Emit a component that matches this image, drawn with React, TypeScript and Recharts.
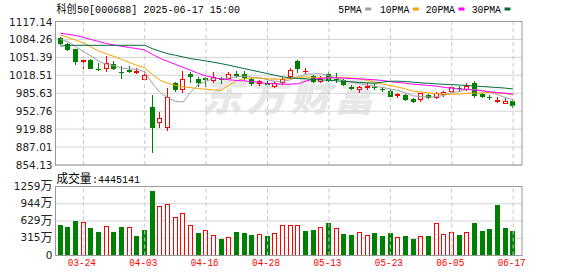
import React from 'react';
import { ComposedChart, Bar, Line, XAxis, YAxis, CartesianGrid, ReferenceLine } from 'recharts';

// ---------------- data ----------------
const dates = [
  '03-19', '03-20', '03-21', '03-24', '03-25', '03-26', '03-27', '03-28', '03-31',
  '04-01', '04-02', '04-03', '04-07', '04-08', '04-09', '04-10', '04-11', '04-14', '04-15', '04-16',
  '04-17', '04-18', '04-21', '04-22', '04-23', '04-24', '04-25', '04-28', '04-29', '04-30',
  '05-06', '05-07', '05-08', '05-09', '05-12', '05-13', '05-14', '05-15', '05-16', '05-19',
  '05-20', '05-21', '05-22', '05-23', '05-26', '05-27', '05-28', '05-29', '05-30',
  '06-03', '06-04', '06-05', '06-06', '06-09', '06-10', '06-11', '06-12', '06-13', '06-16', '06-17',
];

const opens = [
  1087.4, 1076, 1066.2, 1045.5, 1046.6, 1030.5, 1031, 1038.7, 1025, 1028.8,
  1024, 1012.3, 961, 933.5, 923.2, 1003.9, 992.9, 1020.4, 1011.7, 1014,
  1009.5, 1012, 1014.5, 1021, 1020.9, 1012.3, 1005, 1005, 998.9, 1005.6,
  1018.1, 1044.7, 1026, 1017.2, 1009, 1020.9, 1012, 1009.9, 997, 994,
  998, 998, 993.5, 990.3, 982, 982.4, 975.1, 974.5, 983, 979.3,
  983.7, 989.8, 995.5, 992.9, 1004.9, 983.5, 979, 971.5, 968.3, 972,
];
const highs = [
  1089.5, 1078.3, 1067.5, 1047, 1047.5, 1041, 1053.9, 1044.7, 1035.5, 1036,
  1031.4, 1026.9, 982.4, 951.8, 994.7, 1006.8, 1026.9, 1025.1, 1014.9, 1015.5,
  1024.1, 1016, 1024.9, 1026, 1026, 1014.9, 1009.3, 1011, 1005.5, 1016,
  1031.4, 1046, 1031.4, 1020, 1017.2, 1025.1, 1023.3, 1011, 1000.8, 998.9,
  1003.9, 1001.7, 996.5, 992.9, 986.6, 983.7, 977.5, 986.6, 984.5, 987.4,
  989.8, 1000.8, 999, 1003.9, 1008.1, 986.6, 982.4, 978.2, 976.5, 973.2,
];
const lows = [
  1076, 1064.5, 1038.7, 1031.4, 1031, 1029, 1027.3, 1029.5, 1014.1, 1024,
  1022.2, 1012, 877.4, 924.3, 918.3, 990.3, 988.5, 1006.8, 998.9, 999,
  1007, 1004, 1013, 1016, 1009.9, 1000.8, 1000.1, 1002, 997.3, 1002,
  1013, 1025.1, 1022.2, 1006, 1005.7, 1008.6, 1006.8, 1000.8, 992.9, 987.4,
  992.9, 992.9, 989.8, 979.8, 978.2, 973.2, 970.1, 971.9, 976.5, 977.5,
  981, 987.4, 990.3, 992, 979.3, 979.3, 974.5, 969.1, 967.5, 959.9,
];
const closes = [
  1078.3, 1067, 1045.3, 1046.5, 1032.8, 1029.5, 1040.5, 1031, 1024, 1025.9,
  1025.5, 1018.9, 924.3, 939.7, 979.3, 992.9, 1011.2, 1017.3, 1006.8, 1012,
  1015.9, 1011, 1021.8, 1020, 1016.1, 1004.9, 1007.5, 1003, 1003.9, 1011.5,
  1028.2, 1032.5, 1027, 1007.5, 1011.8, 1009.3, 1011.2, 1002, 995.5, 996.5,
  999, 997.5, 992.9, 981.1, 983.7, 974.5, 972, 985.5, 978.5, 985.5,
  987.4, 997.6, 994.7, 998.9, 982.4, 981.5, 978.5, 973.5, 971, 964.1,
];
const prevClose0 = 1086;

// volume in 万
const volumes = [
  556, 519, 630, 605, 501, 428, 532, 428, 519, 513,
  354, 464, 1180, 898, 935, 697, 770, 550, 409, 464,
  367, 299, 330, 428, 409, 373, 385, 354, 403, 550,
  550, 550, 452, 464, 513, 593, 495, 391, 373, 422,
  367, 409, 354, 409, 330, 354, 299, 348, 354, 587,
  385, 422, 373, 422, 593, 446, 483, 923, 501, 444.5,
];

const ma5 = [
  1084.5, 1080.1, 1071.0, 1061.8, 1054.0, 1044.2, 1038.9, 1036.1, 1031.6, 1030.2,
  1029.4, 1025.1, 1003.7, 986.9, 977.5, 971.0, 969.5, 988.1, 1001.5, 1008.0,
  1012.6, 1012.6, 1013.5, 1016.1, 1017.0, 1014.8, 1014.1, 1010.3, 1007.1, 1006.2,
  1010.8, 1015.8, 1020.6, 1021.3, 1021.4, 1017.6, 1013.4, 1008.4, 1006.0, 1002.9,
  1000.8, 998.1, 996.3, 993.4, 990.8, 985.9, 980.8, 979.4, 978.8, 979.2,
  981.8, 986.9, 988.7, 992.8, 992.2, 991.0, 987.2, 983.0, 977.4, 973.7,
];
const ma10 = [
  1092.5, 1088, 1083, 1078, 1070.5, 1063, 1058, 1053, 1047.5, 1042.1,
  1036.8, 1032.0, 1019.9, 1009.2, 1003.9, 1000.2, 997.3, 995.9, 994.2, 992.8,
  991.8, 991.0, 1000.8, 1008.8, 1012.5, 1013.7, 1013.3, 1011.9, 1011.6, 1011.6,
  1012.8, 1014.9, 1015.5, 1014.2, 1013.8, 1014.2, 1014.6, 1014.5, 1013.7, 1012.2,
  1009.2, 1005.7, 1002.3, 999.7, 996.9, 993.4, 989.5, 987.8, 986.1, 985.0,
  983.9, 983.9, 984.1, 985.8, 985.7, 986.4, 987.1, 985.9, 985.1, 983.0,
];
const ma20 = [
  1095.5, 1093.7, 1091.5, 1088.2, 1084.1, 1080.5, 1076.8, 1074.1, 1071.7, 1069.5,
  1067.3, 1065, 1057, 1049.5, 1044, 1038.5, 1033, 1027.5, 1022, 1017.4,
  1014.3, 1011.5, 1010.3, 1009.0, 1008.2, 1007.0, 1005.3, 1003.9, 1002.9, 1002.2,
  1002.3, 1003.0, 1008.1, 1011.5, 1013.1, 1014.0, 1014.0, 1013.2, 1012.6, 1011.9,
  1011.0, 1010.3, 1008.9, 1006.9, 1005.3, 1003.8, 1002.0, 1001.2, 999.9, 998.6,
  996.5, 994.8, 993.2, 992.8, 991.3, 989.9, 988.3, 986.8, 985.6, 984.0,
];
const ma30 = [
  1072, 1073.5, 1073.5, 1073.5, 1073.5, 1073.5, 1073.5, 1073.5, 1073.5, 1073.5,
  1073.5, 1073.5, 1067.3, 1062.5, 1058.1, 1055.2, 1052.1, 1049.0, 1047.1, 1044.7,
  1042.4, 1039.8, 1036.9, 1033.8, 1030.6, 1027.7, 1024.6, 1021.5, 1018.6, 1015.5,
  1013.8, 1012.7, 1012.0, 1010.7, 1010.0, 1009.4, 1008.4, 1007.4, 1006.5, 1005.5,
  1004.6, 1003.9, 1006.2, 1007.6, 1007.7, 1007.1, 1005.8, 1004.7, 1003.8, 1002.9,
  1002.0, 1001.5, 1000.6, 999.9, 998.8, 998.0, 997.0, 996.1, 995.0, 993.4,
];

const priceTicks = [854.13, 887.01, 919.88, 952.76, 985.63, 1018.51, 1051.39, 1084.26, 1117.14];
const volTicks = [0, 315, 629, 944, 1259];
const dateTicks = ['03-24', '04-03', '04-16', '04-28', '05-13', '05-23', '06-05', '06-17'];

const titleName = '科创';
const titleRest = '50[000688] 2025-06-17 15:00';
const volLabel = '成交量';
const volValueText = ':4445141';
const watermark = '东方财富';
const legendItems = [
  { name: '5PMA', color: '#a0a0a0' },
  { name: '10PMA', color: '#f5a300' },
  { name: '20PMA', color: '#ff00ff' },
  { name: '30PMA', color: '#006b3c' },
];

// ---------------- styling ----------------
const RED = '#ff0000';
const GREEN = '#008000';
const GRID = '#d4d4d4';
const FRAME = '#999999';
const LEFT = 55.5;
const RIGHT_M = 56;

const rows = dates.map((d, i) => ({
  date: d,
  open: opens[i],
  high: highs[i],
  low: lows[i],
  close: closes[i],
  range: [lows[i], highs[i]],
  vol: volumes[i],
  volUp: closes[i] >= (i === 0 ? prevClose0 : closes[i - 1]),
  ma5: ma5[i],
  ma10: ma10[i],
  ma20: ma20[i],
  ma30: ma30[i],
}));

function Candle(props: any) {
  const { x, y, width, height, payload } = props;
  if (x == null || y == null || !payload) return null;
  const top = Math.min(y, y + height);
  const bot = Math.max(y, y + height);
  const { open, close, high, low } = payload;
  const span = high - low;
  const py = (v: number) => (span > 0 ? top + ((high - v) / span) * (bot - top) : top);
  const cx = Math.floor(x + width / 2);
  const up = close >= open;
  const color = up ? RED : GREEN;
  const hTop = Math.round(top);
  const lBot = Math.round(bot);
  const bTop = Math.round(Math.min(py(open), py(close)));
  const bBot = Math.round(Math.max(py(open), py(close)));
  const flat = bBot - bTop < 1;
  if (flat) {
    return (
      <g>
        <line x1={cx + 0.5} x2={cx + 0.5} y1={hTop} y2={lBot + 1} stroke={color} strokeWidth={1} />
        <line x1={cx - 2} x2={cx + 3} y1={bTop + 0.5} y2={bTop + 0.5} stroke={color} strokeWidth={1} />
      </g>
    );
  }
  if (up) {
    return (
      <g>
        {bTop > hTop && <line x1={cx + 0.5} x2={cx + 0.5} y1={hTop} y2={bTop} stroke={color} strokeWidth={1} />}
        {lBot > bBot && <line x1={cx + 0.5} x2={cx + 0.5} y1={bBot + 1} y2={lBot + 1} stroke={color} strokeWidth={1} />}
        <rect x={cx - 1.5} y={bTop + 0.5} width={4} height={bBot - bTop} fill="#fff" stroke={color} strokeWidth={1} />
      </g>
    );
  }
  return (
    <g>
      <line x1={cx + 0.5} x2={cx + 0.5} y1={hTop} y2={lBot + 1} stroke={color} strokeWidth={1} />
      <rect x={cx - 2} y={bTop} width={5} height={bBot - bTop + 1} fill={color} />
    </g>
  );
}

function VolBar(props: any) {
  const { x, y, width, height, payload } = props;
  if (x == null || y == null || !payload) return null;
  const cx = Math.floor(x + width / 2);
  const t = Math.round(y);
  const b = Math.round(y + height);
  if (payload.volUp) {
    return <rect x={cx - 1.5} y={t + 0.5} width={4} height={Math.max(1, b - t - 1)} fill="#fff" stroke={RED} strokeWidth={1} />;
  }
  return <rect x={cx - 2} y={t} width={5} height={b - t} fill={GREEN} />;
}

function PriceTick(props: any) {
  const { x, y, payload } = props;
  return (
    <text x={x} y={y + 4} textAnchor="end" fontFamily="DejaVu Sans" fontSize={10.5} fill="#222">
      {Number(payload.value).toFixed(2)}
    </text>
  );
}

function VolTick(props: any) {
  const { x, y, payload } = props;
  const v = Number(payload.value);
  if (v === 0) {
    return (
      <text x={x} y={y + 3} textAnchor="end" fontFamily="DejaVu Sans" fontSize={10.5} fill="#222">0</text>
    );
  }
  return (
    <g>
      <text x={x - 12} y={y + 3} textAnchor="end" fontFamily="DejaVu Sans" fontSize={10.5} fill="#222">{String(v)}</text>
      <text x={x} y={y + 3.5} textAnchor="end" fontFamily="Noto Sans CJK SC" fontSize={12} fill="#222">万</text>
    </g>
  );
}

function DateTick(props: any) {
  const { x, y, payload } = props;
  return (
    <text x={x - 15.5} y={y + 10} fontFamily="Liberation Mono" fontSize={11} fill={RED} textLength={28} lengthAdjust="spacingAndGlyphs">
      {payload.value}
    </text>
  );
}

export default function App() {
  return (
    <div style={{ position: 'absolute', left: 0, top: 0, width: 578, height: 276, background: '#fff', overflow: 'hidden' }}>
      {/* watermark */}
      <svg width={578} height={276} style={{ position: 'absolute', left: 0, top: 0 }}>
        <text x={202} y={111} fontFamily="Noto Sans CJK SC" fontWeight={900} fontStyle="italic" fontSize={40} fill="#e8e8e8" textLength={172} lengthAdjust="spacing">{watermark}</text>
      </svg>

      <div style={{ position: 'absolute', left: 0, top: 0 }}>
        <ComposedChart width={578} height={170} data={rows} margin={{ top: 21.5, right: RIGHT_M, bottom: 5, left: 0 }}>
          <CartesianGrid vertical={false} stroke={GRID} />
          <XAxis dataKey="date" type="category" hide padding={{ left: 1, right: 5 }} />
          <YAxis
            type="number"
            domain={[854.13, 1117.14]}
            ticks={priceTicks}
            interval={0}
            allowDataOverflow
            width={LEFT}
            tickSize={0}
            tickMargin={3}
            axisLine={false}
            tickLine={false}
            tick={<PriceTick />}
          />
          {dateTicks.map((d) => (
            <ReferenceLine key={d} x={d} stroke="#c8c8c8" strokeDasharray="4 3" />
          ))}
          <Bar dataKey="range" barSize={5} shape={<Candle />} isAnimationActive={false} />
          <Line dataKey="ma5" stroke={legendItems[0].color} strokeWidth={1} dot={false} activeDot={false} isAnimationActive={false} />
          <Line dataKey="ma10" stroke={legendItems[1].color} strokeWidth={1} dot={false} activeDot={false} isAnimationActive={false} />
          <Line dataKey="ma20" stroke={legendItems[2].color} strokeWidth={1} dot={false} activeDot={false} isAnimationActive={false} />
          <Line dataKey="ma30" stroke={legendItems[3].color} strokeWidth={1} dot={false} activeDot={false} isAnimationActive={false} />
        </ComposedChart>
      </div>

      <div style={{ position: 'absolute', left: 0, top: 0 }}>
        <ComposedChart width={578} height={276} data={rows} margin={{ top: 186.5, right: RIGHT_M, bottom: 0.5, left: 0 }}>
          <CartesianGrid vertical={false} stroke={GRID} />
          <XAxis
            dataKey="date"
            type="category"
            padding={{ left: 1, right: 5 }}
            ticks={dateTicks}
            interval={0}
            height={20}
            tickSize={0}
            tickMargin={0}
            axisLine={false}
            tickLine={false}
            tick={<DateTick />}
          />
          <YAxis
            type="number"
            domain={[0, 1259]}
            ticks={volTicks}
            interval={0}
            allowDataOverflow
            width={LEFT}
            tickSize={0}
            tickMargin={3}
            axisLine={false}
            tickLine={false}
            tick={<VolTick />}
          />
          {dateTicks.map((d) => (
            <ReferenceLine key={d} x={d} stroke="#c8c8c8" strokeDasharray="4 3" />
          ))}
          <Bar dataKey="vol" barSize={5} shape={<VolBar />} isAnimationActive={false} />
        </ComposedChart>
      </div>

      {/* frames and header texts */}
      <svg width={578} height={276} style={{ position: 'absolute', left: 0, top: 0, pointerEvents: 'none' }}>
        <rect x={55.5} y={21.5} width={466.5} height={143.5} fill="none" stroke={FRAME} strokeWidth={1} />
        <rect x={55.5} y={186.5} width={466.5} height={69} fill="none" stroke={FRAME} strokeWidth={1} />

        <text x={56.5} y={12.5} fontFamily="Noto Sans CJK SC" fontSize={11} fill="#000" textLength={20} lengthAdjust="spacingAndGlyphs">{titleName}</text>
        <text x={77} y={12.5} fontFamily="Liberation Mono" fontSize={11.5} fill="#000" textLength={163} lengthAdjust="spacingAndGlyphs">{titleRest}</text>

        <text x={56.5} y={183} fontFamily="Noto Sans CJK SC" fontSize={12} fill="#000" textLength={35} lengthAdjust="spacingAndGlyphs">{volLabel}</text>
        <text x={92} y={182.5} fontFamily="Liberation Mono" fontSize={11.5} fill="#000" textLength={48} lengthAdjust="spacingAndGlyphs">{volValueText}</text>

        {legendItems.map((it, k) => {
          const starts = [338.3, 380, 425.7, 471.7];
          const w = it.name.length === 4 ? 23.4 : 29.3;
          const sx = starts[k];
          return (
            <g key={it.name}>
              <text x={sx} y={12.5} fontFamily="Liberation Mono" fontSize={11} fill="#000" textLength={w} lengthAdjust="spacingAndGlyphs">{it.name}</text>
              <rect x={sx + w + 3.5} y={7.5} width={6} height={3} fill={it.color} />
            </g>
          );
        })}
      </svg>
    </div>
  );
}
